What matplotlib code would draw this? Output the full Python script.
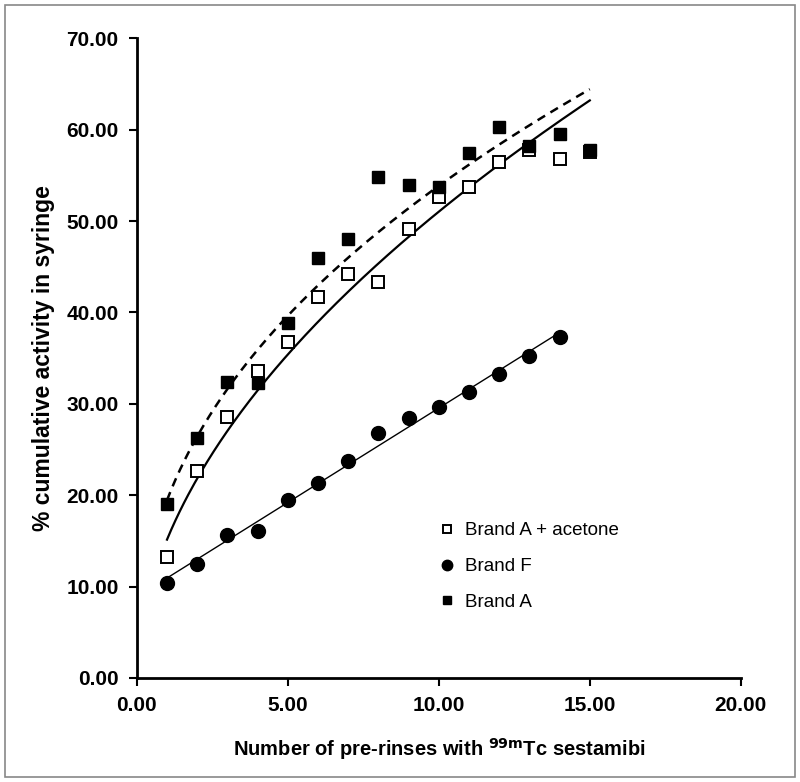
import numpy as np
import matplotlib
matplotlib.use("Agg")
import matplotlib.pyplot as plt
from matplotlib.patches import Rectangle

plt.rcParams['font.family'] = ['Liberation Sans', 'DejaVu Sans']

# data
rinses = np.arange(1, 16)
acetone = [13.2, 22.6, 28.6, 33.6, 36.8, 41.7, 44.2, 43.3, 49.1, 52.6, 53.7, 56.5, 57.8, 56.8, 57.6]
brand_a = [19.0, 26.3, 32.4, 32.3, 38.9, 46.0, 48.0, 54.8, 53.9, 53.7, 57.4, 60.3, 58.2, 59.5, 57.8]
rinses_f = np.arange(1, 15)
brand_f = [10.4, 12.5, 15.6, 16.1, 19.5, 21.3, 23.8, 26.8, 28.4, 29.7, 31.3, 33.3, 35.2, 37.3]

x_ticks = [0, 5, 10, 15, 20]
y_ticks = [0, 10, 20, 30, 40, 50, 60, 70]


def power_fit(x, y):
    b, ln_a = np.polyfit(np.log(x), np.log(y), 1)
    return np.exp(ln_a), b


fig = plt.figure(figsize=(8, 7.82), dpi=100)
ax = fig.add_axes([0.171, 0.133, 0.755, 0.818])

# trend lines
xs = np.linspace(1, 15, 200)
a1, b1 = power_fit(rinses, acetone)
a2, b2 = power_fit(rinses, brand_a)
ax.plot(xs, a1 * xs ** b1, color="black", lw=1.6)
ax.plot(xs, a2 * xs ** b2, color="black", lw=1.8, ls=(0, (3.5, 2.5)))
m, c = np.polyfit(rinses_f, brand_f, 1)
xf = np.linspace(1, 14, 50)
ax.plot(xf, m * xf + c, color="black", lw=1.0)

# points
ax.plot(rinses, acetone, ls="none", marker="s", ms=8, mfc="white", mec="black", mew=1.4,
        label="Brand A + acetone")
ax.plot(rinses_f, brand_f, ls="none", marker="o", ms=10, mfc="black", mec="black",
        label="Brand F")
ax.plot(rinses, brand_a, ls="none", marker="s", ms=8, mfc="black", mec="black",
        label="Brand A")

ax.set_xlim(0, 20)
ax.set_ylim(0, 70)
ax.set_xticks(x_ticks)
ax.set_yticks(y_ticks)
ax.set_xticklabels([f"{v:.2f}" for v in x_ticks], fontweight="bold", fontsize=15)
ax.set_yticklabels([f"{v:.2f}" for v in y_ticks], fontweight="bold", fontsize=15)
ax.tick_params(direction="out", length=6, width=1.5, pad=7)
for side in ["top", "right"]:
    ax.spines[side].set_visible(False)
for side in ["left", "bottom"]:
    ax.spines[side].set_linewidth(2)

ax.set_xlabel(r"Number of pre-rinses with $\mathbf{^{99m}}$Tc sestamibi", fontweight="bold",
              fontsize=14.5, labelpad=15)
ax.set_ylabel("% cumulative activity in syringe", fontweight="bold", fontsize=16.5, labelpad=8)

ax.legend(loc="upper left", bbox_to_anchor=(0.47, 0.27), frameon=False, fontsize=13.5,
          handletextpad=0.45, markerscale=0.75, labelspacing=1.0, handlelength=1.0)

fig.patches.append(Rectangle((0.006, 0.006), 0.988, 0.988, transform=fig.transFigure,
                             fill=False, edgecolor="#888888", lw=1.2))

plt.savefig("out.png", dpi=100)
